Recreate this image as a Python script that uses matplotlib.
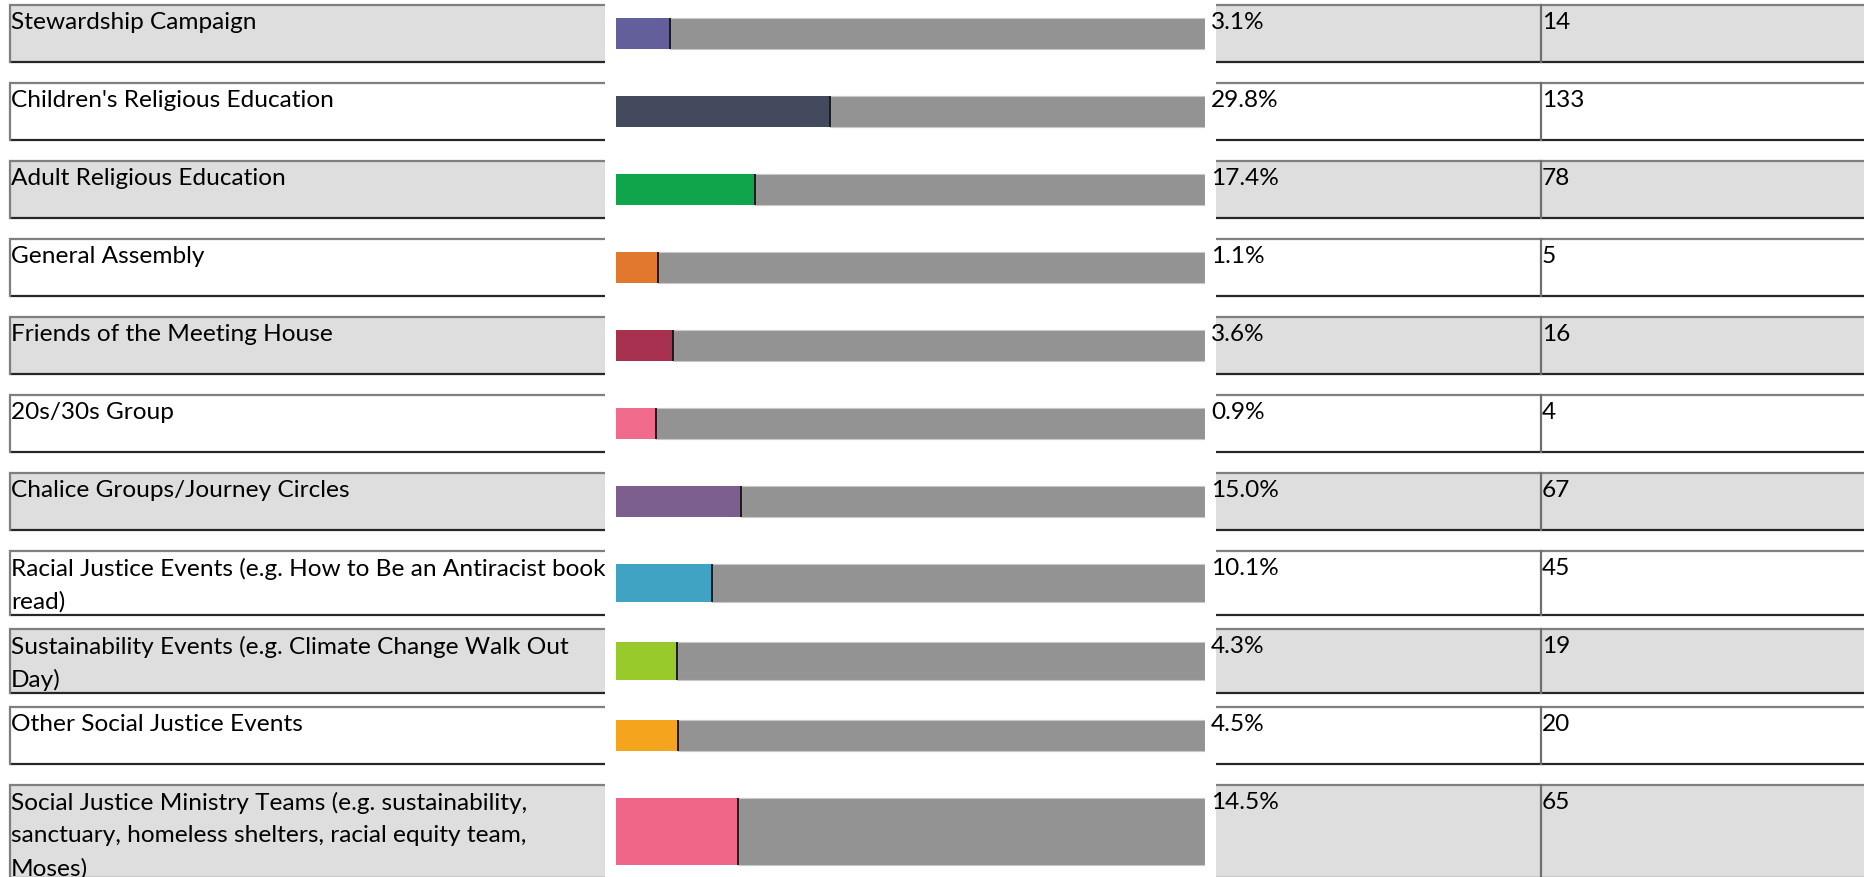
import matplotlib
matplotlib.use("Agg")
import matplotlib.pyplot as plt
from matplotlib.patches import Rectangle

# data
labels = [
    "Stewardship Campaign",
    "Children's Religious Education",
    "Adult Religious Education",
    "General Assembly",
    "Friends of the Meeting House",
    "20s/30s Group",
    "Chalice Groups/Journey Circles",
    "Racial Justice Events (e.g. How to Be an Antiracist book\nread)",
    "Sustainability Events (e.g. Climate Change Walk Out\nDay)",
    "Other Social Justice Events",
    "Social Justice Ministry Teams (e.g. sustainability,\nsanctuary, homeless shelters, racial equity team,\nMoses)",
]
pct = [3.1, 29.8, 17.4, 1.1, 3.6, 0.9, 15.0, 10.1, 4.3, 4.5, 14.5]
counts = [14, 133, 78, 5, 16, 4, 67, 45, 19, 20, 65]
colors = ["#625F9B", "#434A5E", "#0FA54A", "#E2782D", "#A8304F", "#F06B8B",
          "#7D5F8F", "#41A3C4", "#98C92B", "#F5A51D", "#F06688"]

W, H = 1864, 878
FONT = "Lato"
FS = 17.6
GRAY = "#939393"
CELL = "#DEDEDE"

fig = plt.figure(figsize=(W / 100, H / 100), dpi=100)
ax = fig.add_axes([0, 0, 1, 1])
ax.set_xlim(0, W)
ax.set_ylim(H, 0)
ax.axis("off")

# bar axis: x in percent, y in pixel rows
bx = fig.add_axes([616 / W, 0, 589 / W, 1])
xmin, xmax = -5.83, 92.33
bx.set_xlim(xmin, xmax)
bx.set_ylim(H, 0)
bx.axis("off")

pitch = 78
row_h = {1: 57, 2: 64, 3: 93}
line_h = 33

for i, (lab, p, n, c) in enumerate(zip(labels, pct, counts, colors)):
    lines = lab.split("\n")
    top = 6 + i * pitch
    h = row_h[len(lines)]
    bot = top + h
    fill = CELL if i % 2 == 0 else "white"

    # cells
    for x0, x1 in [(10, 605), (1216, W + 5)]:
        ax.add_patch(Rectangle((x0, top), x1 - x0, h, facecolor=fill,
                               edgecolor="none", zorder=1))
        ax.plot([x0, x1], [top, top], color="#7F7F7F", lw=1.6, zorder=2,
                solid_capstyle="butt")
        ax.plot([x0, x1], [bot, bot], color="#262626", lw=1.6, zorder=2,
                solid_capstyle="butt")
    ax.plot([10, 10], [top, bot], color="#7F7F7F", lw=1.6, zorder=2)
    ax.plot([1541, 1541], [top, bot], color="#6F6F6F", lw=1.6, zorder=2)

    for k, ln in enumerate(lines):
        ax.text(11, top + 6 + k * line_h, ln, fontsize=FS, family=FONT,
                va="top", ha="left", color="black", zorder=3)
    ax.text(1211, top + 6, f"{p:.1f}%", fontsize=FS, family=FONT,
            va="top", ha="left", color="black", zorder=3)
    ax.text(1542, top + 6, str(n), fontsize=FS, family=FONT,
            va="top", ha="left", color="black", zorder=3)

    # bars
    yc = top + h / 2
    bh = h - 26
    bx.barh(yc, xmax - p, left=p, height=bh, color=GRAY,
            edgecolor="#C8C8C8", linewidth=0.8)
    bx.barh(yc, p - xmin, left=xmin, height=bh, color=c, edgecolor="none")
    bx.vlines(p, yc - bh / 2, yc + bh / 2, color="#1A1A1A", lw=1.4)

fig.savefig("out.png", dpi=100)
